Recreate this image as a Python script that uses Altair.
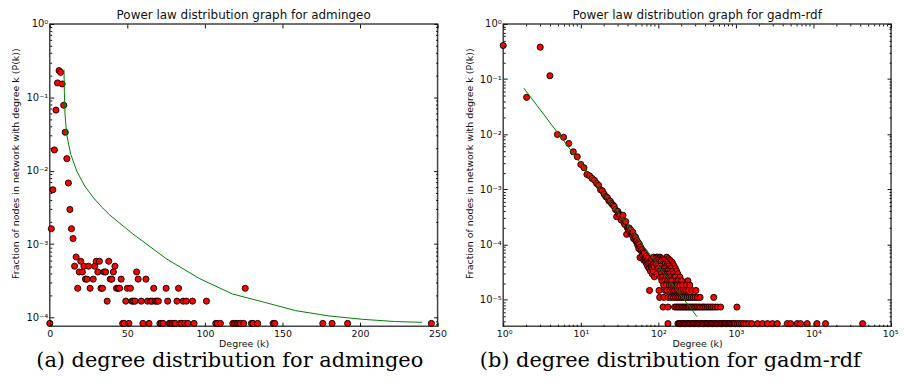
import altair as alt
import pandas as pd

# ---------------- left panel: admingeo ----------------
adm_k = [0, 1, 2, 3, 4, 5, 6, 7, 8, 9,
         10, 11, 12, 13, 14, 15, 16, 17, 18, 19,
         20, 21, 22, 23, 24, 25, 26, 28, 29, 30,
         31, 32, 33, 34, 35, 36, 37, 38, 39, 40,
         41, 42, 43, 44, 45, 46, 47, 48, 49, 50,
         51, 52, 53, 54, 55, 56, 57, 59, 60, 62,
         63, 64, 65, 66, 67, 68, 69, 70, 71, 72,
         73, 75, 76, 77, 78, 79, 80, 81, 82, 83,
         84, 85, 86, 87, 88, 89, 92, 93, 101, 107,
         108, 110, 118, 119, 120, 121, 122, 123, 125, 126,
         130, 131, 134, 144, 145, 176, 182, 192, 246]
adm_p = [8.3e-5, 1.62e-3, 5.5e-3, 1.92e-2, 6.7e-2, 0.157, 0.231, 0.219, 0.152, 0.078,
         0.0334, 0.0146, 6.8e-3, 2.96e-3, 1.62e-3, 1.19e-3, 5.0e-4, 6.67e-4, 2.5e-4, 4.17e-4,
         5.83e-4, 4.17e-4, 5.0e-4, 3.33e-4, 3.33e-4, 5.0e-4, 2.5e-4, 3.33e-4, 5.0e-4, 5.83e-4,
         4.17e-4, 5.83e-4, 2.5e-4, 2.5e-4, 4.17e-4, 4.17e-4, 1.67e-4, 5.83e-4, 3.33e-4, 3.33e-4,
         4.17e-4, 5.0e-4, 2.5e-4, 2.5e-4, 2.5e-4, 3.33e-4, 8.3e-5, 8.3e-5, 1.67e-4, 2.5e-4,
         8.3e-5, 2.5e-4, 1.67e-4, 1.67e-4, 1.67e-4, 4.17e-4, 3.33e-4, 1.67e-4, 8.3e-5, 3.33e-4,
         1.67e-4, 8.3e-5, 1.67e-4, 1.67e-4, 2.5e-4, 1.67e-4, 1.67e-4, 1.67e-4, 8.3e-5, 8.3e-5,
         8.3e-5, 2.5e-4, 1.67e-4, 8.3e-5, 8.3e-5, 8.3e-5, 8.3e-5, 8.3e-5, 1.67e-4, 2.5e-4,
         8.3e-5, 8.3e-5, 1.67e-4, 8.3e-5, 1.67e-4, 8.3e-5, 1.67e-4, 8.3e-5, 1.67e-4, 8.3e-5,
         8.3e-5, 8.3e-5, 8.3e-5, 8.3e-5, 8.3e-5, 8.3e-5, 8.3e-5, 8.3e-5, 8.3e-5, 2.5e-4,
         8.3e-5, 8.3e-5, 8.3e-5, 8.3e-5, 8.3e-5, 8.3e-5, 8.3e-5, 8.3e-5, 8.3e-5]
adm_fit_k = [9.19, 9.4, 9.8, 10.9, 13.5, 17.4, 22.5, 28.3, 33.4, 38.6, 53.5,
             75.0, 96.4, 117.8, 137.0, 158.5, 180.0, 201.4, 222.9, 240.0]
adm_fit_p = [0.238, 0.12, 0.06, 0.0313, 0.0168, 9.9e-3, 6.2e-3, 4.25e-3, 3.21e-3, 2.5e-3, 1.38e-3,
             6.34e-4, 3.40e-4, 2.09e-4, 1.64e-4, 1.24e-4, 1.05e-4, 9.45e-5, 8.8e-5, 8.6e-5]

# ---------------- right panel: gadm-rdf ----------------
gadm_k = list(range(1, 91))
gadm_p = [0.406, 0.0466, 0.379, 0.115, 0.0099, 0.0088, 0.0068, 0.0048, 0.0039, 0.00283,
          0.00247, 0.00187, 0.00176, 0.00158, 0.00146, 0.00128, 0.00118, 0.00098, 0.00094, 0.00082,
          0.00074, 0.00071, 0.00062, 0.00061, 0.00055, 0.00052, 0.00049, 0.00043, 0.00032, 0.00040,
          0.00036, 0.00034, 0.00028, 0.00031, 0.00034, 0.00025, 0.00023, 0.00026, 0.000153, 0.00020,
          0.00019, 0.00020, 0.000165, 0.000185, 0.000158, 0.000148, 0.000166, 0.000128, 0.000142, 0.000122,
          0.000135, 0.000112, 0.000118, 0.000098, 0.000108, 0.000084, 0.000101, 0.000058, 0.000090, 0.000077,
          0.000081, 0.000059, 0.000064, 0.000074, 0.000052, 0.000070, 0.000055, 0.000059, 0.000048, 0.000062,
          0.000044, 0.000052, 0.000040, 0.000057, 0.000047, 0.000037, 0.0000147, 0.000044, 0.000033, 0.000048,
          0.000040, 0.000055, 0.000037, 0.000029, 0.000044, 0.000033, 0.000059, 0.000040, 0.000026, 0.000048]
# tail: discrete fraction levels and the degrees observed at each level
gadm_level_p = [5.9e-5, 5.5e-5, 5.15e-5, 4.8e-5, 4.4e-5, 4.04e-5, 3.68e-5, 3.3e-5,
                2.94e-5, 2.57e-5, 2.2e-5, 1.84e-5, 1.47e-5, 1.1e-5, 7.35e-6, 3.68e-6]
gadm_level_k = [
    [95, 99, 105, 128],
    [92, 103, 112, 135],
    [97, 110, 118, 142],
    [101, 108, 125, 150],
    [94, 115, 122, 131, 155],
    [98, 106, 128, 136, 160],
    [100, 113, 119, 140, 148, 166],
    [104, 116, 124, 133, 152, 172],
    [96, 109, 121, 129, 138, 156, 178],
    [107, 114, 126, 135, 145, 160, 166, 190],
    [111, 120, 132, 142, 150, 171, 180, 200, 240],
    [117, 127, 139, 147, 158, 168, 176, 190, 205, 230, 254],
    [102, 123, 130, 143, 154, 163, 174, 184, 196, 212, 226, 244, 272, 305],
    [104, 118, 134, 146, 157, 167, 178, 188, 199, 210, 221, 236, 250, 265, 282, 300, 320, 345, 518],
    [115, 133, 162, 170, 178, 186, 195, 204, 213, 222, 232, 242, 253, 265, 277, 290, 303, 318,
     333, 350, 368, 386, 406, 428, 452, 478, 505, 540, 580, 635, 1030],
    [133, 179, 186, 193, 200, 208, 216, 224, 233, 242, 251, 261, 271, 282, 293, 304, 316, 328,
     341, 354, 368, 382, 397, 412, 428, 445, 462, 480, 499, 518, 538, 559, 581, 603, 627, 651,
     676, 703, 730, 758, 788, 818, 850, 883, 917, 953, 990, 1050, 1110, 1180, 1250, 1350, 1460,
     1600, 1900, 2200, 2550, 2950, 3420, 4600, 5070, 6180, 6810, 8300, 11100, 14300, 43000],
]
gadm_fit_k = [1.84, 315]
gadm_fit_p = [0.0687, 4.93e-6]

titles = ["Power law distribution graph for admingeo", "Power law distribution graph for gadm-rdf"]
captions = ["(a) degree distribution for admingeo", "(b) degree distribution for gadm-rdf"]
x_title = "Degree (k)"
y_title = "Fraction of nodes in network with degree k (P(k))"

# ---------------- tables ----------------
adm_df = pd.DataFrame({"k": adm_k, "p": adm_p})
adm_fit_df = pd.DataFrame({"k": adm_fit_k, "p": adm_fit_p})
tail_rows = [(k, p) for p, ks in zip(gadm_level_p, gadm_level_k) for k in ks]
gadm_df = pd.DataFrame({"k": gadm_k + [r[0] for r in tail_rows],
                        "p": gadm_p + [r[1] for r in tail_rows]})
gadm_fit_df = pd.DataFrame({"k": gadm_fit_k, "p": gadm_fit_p})

SANS = "DejaVu Sans"
INK = "#111"
POW = ("'10' + (round(log(datum.value)/LN10) < 0 ? '\u207b' : '') + "
       "['\u2070','\u00b9','\u00b2','\u00b3','\u2074','\u2075','\u2076','\u2077','\u2078','\u2079']"
       "[abs(round(log(datum.value)/LN10))]")


def decades(lo, hi):
    return [10.0 ** e for e in range(lo, hi + 1)]


def minors(lo, hi, dmin, dmax):
    out = []
    for e in range(lo, hi + 1):
        for m in range(2, 10):
            v = m * 10.0 ** e
            if dmin <= v <= dmax:
                out.append(v)
    return out


def major_axis(orient, values, label_expr=None, title=None, size=10, flush=False):
    kw = dict(orient=orient, values=values, tickSize=4, offset=-4, domain=False, grid=False,
              tickColor=INK, tickWidth=1, labelFont=SANS, labelFontSize=size, labelColor="#111",
              labelPadding=2, labelFlush=flush, labelOverlap=False, zindex=1,
              titleFont=SANS, titleFontSize=9.5, titleFontWeight="normal", titleColor="#111")
    if flush:
        kw["labelFlushOffset"] = 7
    if orient == "left":
        kw["titlePadding"] = 5
        kw["titleY"] = 140
    else:
        kw["titlePadding"] = 1
    if label_expr:
        kw["labelExpr"] = label_expr
    kw["title"] = title
    return alt.Axis(**kw)


def blank_axis(orient, values, tick):
    return alt.Axis(orient=orient, values=values, tickSize=tick, offset=-tick, domain=False,
                    grid=False, labels=False, tickColor=INK, tickWidth=1, title=None, zindex=1)


def panel(df, fit_df, xs, ys, x_major, x_minor, y_major, y_minor, x_expr, flush,
          title, caption, cap_x):
    pts = alt.Chart(df).mark_circle(color="#ff0000", stroke="#000", strokeWidth=0.9,
                                    size=38, opacity=1).encode(
        x=alt.X("k:Q", scale=xs, axis=major_axis("bottom", x_major, x_expr, x_title, 9.5, flush)),
        y=alt.Y("p:Q", scale=ys, axis=major_axis("left", y_major, POW, y_title, 10)),
    )
    fit = alt.Chart(fit_df).mark_line(color="#008000", strokeWidth=1).encode(
        x=alt.X("k:Q", scale=xs, axis=blank_axis("top", x_major, 4)),
        y=alt.Y("p:Q", scale=ys, axis=blank_axis("right", y_major, 4)),
    )
    layers = [pts, fit]
    xm1 = blank_axis("bottom", x_minor, 2) if x_minor else None
    xm2 = blank_axis("top", x_minor, 2) if x_minor else None
    layers.append(alt.Chart(fit_df).mark_circle(opacity=0).encode(
        x=alt.X("k:Q", scale=xs, axis=xm1),
        y=alt.Y("p:Q", scale=ys, axis=blank_axis("left", y_minor, 2)),
    ))
    layers.append(alt.Chart(fit_df).mark_circle(opacity=0).encode(
        x=alt.X("k:Q", scale=xs, axis=xm2),
        y=alt.Y("p:Q", scale=ys, axis=blank_axis("right", y_minor, 2)),
    ))
    cap = alt.Chart(pd.DataFrame({"caption": [caption]})).mark_text(
        font="DejaVu Serif", fontSize=21, align="center", baseline="alphabetic", color="#000"
    ).encode(x=alt.value(cap_x), y=alt.value(345), text="caption:N")
    layers.append(cap)
    return alt.layer(*layers).resolve_axis(x="independent", y="independent").properties(
        width=390, height=304,
        title=alt.TitleParams(title, font=SANS, fontSize=12, fontWeight="normal", color="#111",
                              offset=-3.5),
    )


left = panel(
    adm_df, adm_fit_df,
    alt.Scale(domain=[0, 250], nice=False, zero=False),
    alt.Scale(type="log", domain=[7.6e-5, 1], nice=False),
    [0, 50, 100, 150, 200, 250], None,
    decades(-4, 0), minors(-5, -1, 7.6e-5, 1),
    None, False, titles[0], captions[0], 181,
)
right = panel(
    gadm_df, gadm_fit_df,
    alt.Scale(type="log", domain=[1, 1e5], nice=False),
    alt.Scale(type="log", domain=[3.3e-6, 1], nice=False),
    decades(0, 5), minors(0, 4, 1, 1e5),
    decades(-5, 0), minors(-6, -1, 3.3e-6, 1),
    POW, True, titles[1], captions[1], 168,
)

chart = alt.hconcat(left, right, spacing=16).properties(
    padding={"left": 2, "top": -1, "right": 0, "bottom": 0}
).configure_view(stroke="#444", strokeWidth=1.5)

chart.save("out.html", embed_options={"renderer": "svg", "actions": False})
